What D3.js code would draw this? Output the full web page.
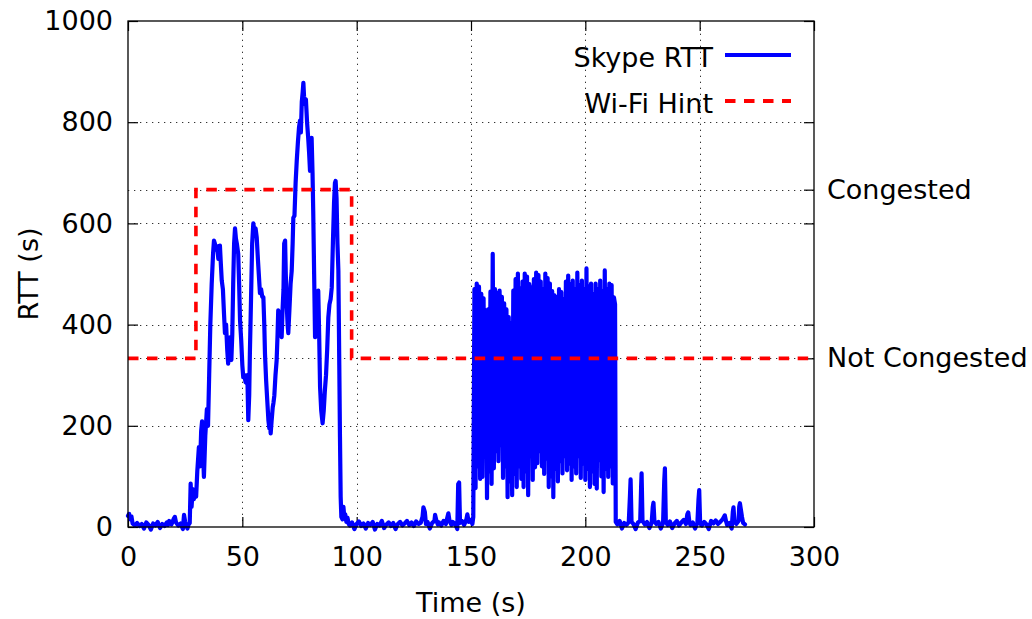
<!DOCTYPE html>
<html>
<head>
<meta charset="utf-8">
<script src="https://cdn.jsdelivr.net/npm/d3@7/dist/d3.min.js"></script>
<style>
  html, body { margin: 0; padding: 0; background: #fff; }
  svg { display: block; }
  text { font-family: "DejaVu Sans", sans-serif; fill: #000; }
</style>
</head>
<body>
<svg id="chart" width="1032" height="619"></svg>
<script>
// ---------- data ----------
const xTicks = [0, 50, 100, 150, 200, 250, 300];
const yTicks = [0, 200, 400, 600, 800, 1000];
const y2TickValues = [333.33, 666.67];
const y2TickLabels = ["Not Congested", "Congested"];
const seriesNames = ["Skype RTT", "Wi-Fi Hint"];

// Wi-Fi hint: step levels (held until next time)
const hintTimes = [0, 29.7, 97.8, 300];
const hintValues = [333.33, 666.67, 333.33, 333.33];

// Skype RTT samples [time s, rtt]
const rttIdleStart = [[0,22],[0.5,26],[1,15],[1.5,21],[2,7],[3,3],[4,8],[5,2],[6,6],[7,-3],[8,9],[9,4],[10,-5],[11,7],[12,3],[13,10],[14,-2],[15,6],[16,2],[17,9],[17.5,4],[18,12],[19,5],[20,16],[20.5,20],[21,9],[22,3],[23,7],[24,-4],[24.5,24],[25,10],[26,-3],[26.5,5],[27,8]];

const rttCongestion = [[27.4,86],[27.8,40],[28.3,75],[28.8,55],[29.3,70],[29.8,60],[30.3,110],[31,158],[31.5,120],[32,190],[32.4,209],[32.8,150],[33.2,99],[33.8,180],[34.5,233],[35,200],[35.5,300],[36,400],[36.6,480],[37.2,540],[37.6,566],[38,560],[38.5,548],[39,555],[39.5,530],[40.2,556],[40.6,520],[41,487],[41.5,470],[42,420],[42.4,383],[42.9,400],[43.4,350],[43.8,323],[44.2,360],[44.6,375],[45,340],[45.2,330],[45.6,380],[46,480],[46.4,560],[46.8,590],[47.2,570],[47.6,560],[48.2,540],[48.6,480],[49,408],[49.5,370],[50,320],[50.4,296],[50.9,300],[51.4,286],[51.9,284],[52.2,300],[52.6,211],[53,260],[53.3,343],[53.8,450],[54.3,560],[54.8,600],[55.3,585],[55.8,590],[56.3,572],[56.8,530],[57.2,500],[57.7,462],[58.2,470],[58.7,455],[59.2,454],[59.6,400],[59.9,343],[60.4,290],[60.9,250],[61.4,211],[61.8,195],[62.1,205],[62.4,185],[62.8,210],[63.3,237],[63.6,245],[64,260],[64.5,300],[65,329],[65.4,380],[65.7,428],[66.2,420],[66.6,390],[67.2,375],[67.6,430],[68,470],[68.3,560],[68.7,566],[69,500],[69.4,441],[69.8,400],[70.1,383],[70.6,430],[71.1,480],[71.6,507],[72,560],[72.3,611],[72.8,615],[73.3,680],[73.8,724],[74.3,760],[74.8,790],[75.2,803],[75.6,780],[76,840],[76.4,860],[76.7,878],[77,850],[77.4,836],[77.8,845],[78.3,800],[78.8,769],[79.2,740],[79.6,704],[80,740],[80.3,769],[80.7,700],[81,625],[81.4,500],[81.8,375],[82.2,400],[82.7,440],[83.2,467],[83.6,380],[84,276],[84.5,230],[85.1,205],[85.6,230],[86.1,270],[86.6,300],[87.1,350],[87.6,414],[88.1,440],[88.6,450],[89.1,473],[89.6,560],[90.1,640],[90.5,680],[90.8,684],[91.2,650],[91.6,560],[92,507],[92.4,320],[92.7,178],[93,60],[93.3,20],[93.8,15],[94.2,40],[94.6,20],[95,25],[95.5,10],[96,18],[96.5,6]];

const rttIdleMiddle = [[97,3],[98,9],[99,-4],[100,6],[101,11],[102,2],[103,7],[104,-3],[105,8],[106,4],[107,10],[108,-5],[109,6],[110,3],[111,12],[112,-2],[113,5],[114,9],[115,2],[116,8],[117,-4],[118,6],[119,10],[120,3],[121,7],[122,12],[123,4],[124,9],[125,2],[126,11],[127,6],[128,8],[128.8,20],[129.2,39],[129.8,30],[130.3,6],[131,10],[132,-3],[133,8],[134,12],[134.3,24],[134.8,14],[135.5,5],[136,9],[137,3],[138,12],[139,6],[139.6,18],[140.1,27],[140.6,12],[141.5,4],[142,10],[143,7],[144,-4],[144.4,85],[144.8,88],[145.2,8],[146,12],[147,4],[148,15],[148.4,25],[149,10],[150,14],[150.6,6],[151,20]];

const rttBurst = [[151.5,470],[152,77],[152.5,481],[153,120],[153.5,475],[154,95],[154.5,461],[155,99],[155.5,452],[156,140],[156.5,428],[157,57],[157.5,430],[158,110],[158.5,465],[159,85],[159.5,540],[160,116],[160.5,470],[161,150],[161.5,462],[162,130],[162.5,467],[163,162],[163.5,455],[164,97],[164.5,442],[165,120],[165.5,430],[166,59],[166.5,415],[167,90],[167.5,402],[168,63],[168.5,467],[169,105],[169.5,490],[170,79],[170.5,501],[171,120],[171.5,471],[172,95],[172.5,485],[173,79],[173.5,501],[174,110],[174.5,495],[175,63],[175.5,480],[176,140],[176.5,473],[177,93],[177.5,490],[178,118],[178.5,503],[179,126],[179.5,498],[180,150],[180.5,485],[181,120],[181.5,470],[182,105],[182.5,501],[183,135],[183.5,492],[184,79],[184.5,481],[185,100],[185.5,466],[186,59],[186.5,458],[187,115],[187.5,454],[188,90],[188.5,470],[189,130],[189.5,464],[190,106],[190.5,450],[191,140],[191.5,485],[192,112],[192.5,497],[193,125],[193.5,480],[194,93],[194.5,487],[195,120],[195.5,470],[196,106],[196.5,503],[197,140],[197.5,478],[198,97],[198.5,487],[199,125],[199.5,470],[200,93],[200.5,511],[201,115],[201.5,475],[202,79],[202.5,481],[203,110],[203.5,460],[204,85],[204.5,481],[205,76],[205.5,470],[206,132],[206.5,487],[207,100],[207.5,465],[208,69],[208.5,507],[209,115],[209.5,470],[210,99],[210.5,481],[211,120],[211.5,478],[212,86],[212.5,454],[213,440],[213.3,10]];

const rttIdleEnd = [[214,5],[215,12],[216,-3],[217,8],[218,4],[219,10],[219.5,60],[219.8,94],[220.2,10],[221,6],[222,-4],[223,9],[224,12],[224.4,80],[224.6,106],[225,12],[226,5],[227,10],[228,-2],[229,8],[229.5,40],[229.8,48],[230.2,12],[231,6],[232,10],[233,-3],[234,8],[234.5,90],[234.8,116],[235.2,10],[236,4],[237,11],[238,-2],[239,7],[240,12],[241,3],[242,9],[243,14],[244,6],[244.6,25],[245,29],[245.5,10],[246,4],[247,9],[248,-3],[249,8],[249.5,55],[249.8,73],[250.2,8],[251,3],[252,10],[253,5],[254,-4],[255,12],[256,7],[257,13],[258,6],[259,10],[260,15],[261,23],[261.5,12],[262,4],[263,8],[264,-3],[264.5,30],[264.8,39],[265.2,10],[266,6],[267,12],[267.3,40],[267.6,47],[268,35],[268.5,20],[269,8],[269.8,5]];

const rttSeries = [].concat(rttIdleStart, rttCongestion, rttIdleMiddle, rttBurst, rttIdleEnd);
const hintSeries = hintTimes.map((t, i) => [t, hintValues[i]]);

// ---------- layout ----------
const svg = d3.select("#chart");
const L = 128, R = 814, T = 21, B = 527;
const FS = 27;
const x = d3.scaleLinear().domain([0, 300]).range([L, R]);
const y = d3.scaleLinear().domain([0, 1000]).range([B, T]);

// grid
const grid = svg.append("g").attr("stroke", "#333").attr("stroke-width", 1).attr("stroke-dasharray", "1.3,4.7");
grid.selectAll("line.gx").data(xTicks.filter(d => d > 0 && d < 300)).join("line")
  .attr("x1", d => Math.round(x(d)) + 0.5).attr("x2", d => Math.round(x(d)) + 0.5)
  .attr("y1", B).attr("y2", T);
grid.selectAll("line.gy").data(yTicks.filter(d => d > 0 && d < 1000).concat(y2TickValues)).join("line")
  .attr("y1", d => Math.round(y(d)) + 0.5).attr("y2", d => Math.round(y(d)) + 0.5)
  .attr("x1", L).attr("x2", R);

// axes (ticks inward)
const fmt = d3.format("d");
const gx = svg.append("g").attr("transform", `translate(0,${B})`)
  .call(d3.axisBottom(x).tickValues(xTicks).tickSize(-10).tickSizeOuter(0).tickPadding(20).tickFormat(fmt));
const gxt = svg.append("g").attr("transform", `translate(0,${T})`)
  .call(d3.axisTop(x).tickValues(xTicks).tickSize(-10).tickSizeOuter(0).tickFormat(""));
const gy = svg.append("g").attr("transform", `translate(${L},0)`)
  .call(d3.axisLeft(y).tickValues(yTicks).tickSize(-10).tickSizeOuter(0).tickPadding(15).tickFormat(fmt));
const gyr = svg.append("g").attr("transform", `translate(${R},0)`)
  .call(d3.axisRight(y).tickValues(yTicks).tickSize(-10).tickSizeOuter(0).tickFormat(""));
const gy2 = svg.append("g").attr("transform", `translate(${R},0)`)
  .call(d3.axisRight(y).tickValues(y2TickValues).tickSize(-10).tickSizeOuter(0).tickPadding(13)
    .tickFormat((d, i) => y2TickLabels[i]));

[gx, gxt, gy, gyr, gy2].forEach(g => {
  g.select(".domain").remove();
  g.selectAll(".tick line").attr("stroke", "#000").attr("stroke-width", 1.2);
  g.selectAll("text").attr("font-size", FS).attr("font-family", '"DejaVu Sans", sans-serif').attr("fill", "#000");
});

// series
const line = d3.line().x(d => x(d[0])).y(d => y(d[1]));
svg.append("path").datum(rttSeries)
  .attr("d", line).attr("fill", "none").attr("stroke", "#0000ff")
  .attr("stroke-width", 4.2).attr("stroke-linejoin", "round").attr("stroke-linecap", "round");

const stepLine = d3.line().curve(d3.curveStepAfter).x(d => x(d[0])).y(d => y(d[1]));
svg.append("path").datum(hintSeries)
  .attr("d", stepLine).attr("fill", "none").attr("stroke", "#ff0000")
  .attr("stroke-width", 3.6).attr("stroke-dasharray", "10.5,8.5");

// frame
svg.append("rect").attr("x", L).attr("y", T).attr("width", R - L).attr("height", B - T)
  .attr("fill", "none").attr("stroke", "#000").attr("stroke-width", 1.3);

// axis titles
svg.append("text").attr("x", (L + R) / 2).attr("y", 602).attr("text-anchor", "middle")
  .attr("dominant-baseline", "central").attr("font-size", FS).text("Time (s)");
svg.append("text").attr("transform", `translate(28,${(T + B) / 2}) rotate(-90)`)
  .attr("text-anchor", "middle").attr("dominant-baseline", "central").attr("font-size", FS).text("RTT (s)");

// legend
const legend = svg.append("g");
const legendY = [55, 101];
const legendStyles = [
  { color: "#0000ff", dash: null },
  { color: "#ff0000", dash: "10.5,8.5" }
];
seriesNames.forEach((name, i) => {
  legend.append("text").attr("x", 713).attr("y", legendY[i] + 2).attr("text-anchor", "end")
    .attr("dominant-baseline", "central").attr("font-size", FS).text(name);
  legend.append("line").attr("x1", 725).attr("x2", 791).attr("y1", legendY[i]).attr("y2", legendY[i])
    .attr("stroke", legendStyles[i].color).attr("stroke-width", 3.8)
    .attr("stroke-dasharray", legendStyles[i].dash);
});
</script>
</body>
</html>
